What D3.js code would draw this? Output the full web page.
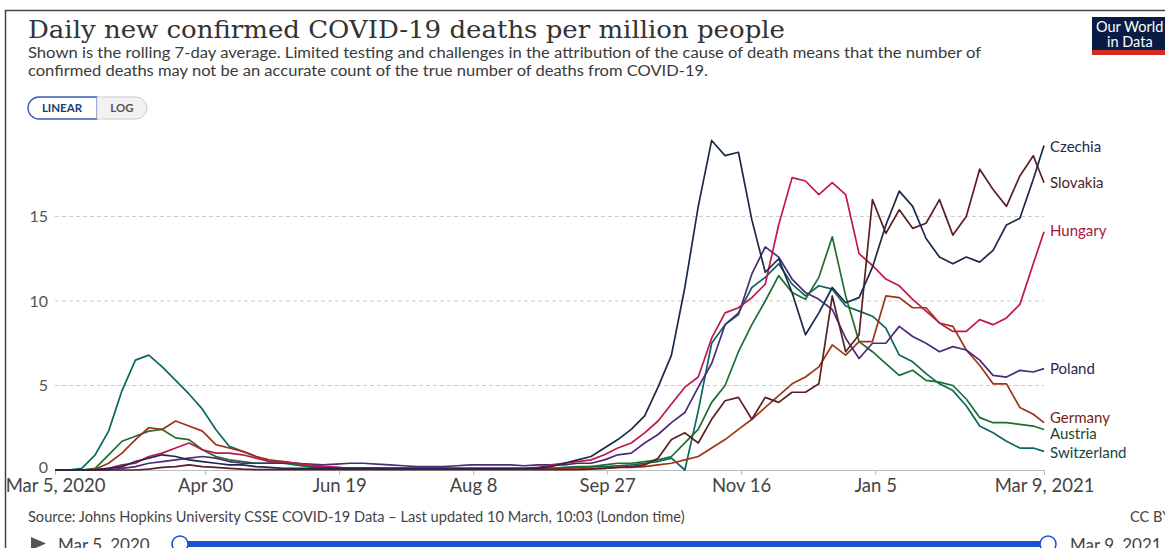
<!DOCTYPE html>
<html>
<head>
<meta charset="utf-8">
<script src="https://cdn.jsdelivr.net/npm/d3@7"></script>
<style>
  html, body { margin: 0; padding: 0; background: #fff; }
  svg { display: block; font-family: Lato, "Open Sans", sans-serif; }
</style>
</head>
<body>
<svg id="chart" width="1165" height="548"></svg>
<script>
// ---------------- DATA ----------------
const startDate = "2020-03-05";
const dayOffsets = [0,5,10,15,20,25,30,35,40,45,50,55,60,65,70,75,80,85,90,95,
  100,105,110,115,120,125,130,135,140,145,150,155,160,165,170,175,180,185,190,195,
  200,205,210,215,220,225,230,235,240,245,250,255,260,265,270,275,280,285,290,295,
  300,305,310,315,320,325,330,335,340,345,350,355,360,365,369];

const countries = ["Czechia","Slovakia","Hungary","Poland","Germany","Austria","Switzerland"];

const czechia = [0,0,0,0.02,0.1,0.2,0.5,0.7,0.9,0.8,0.6,0.5,0.4,0.3,0.3,0.2,0.15,0.1,0.1,
  0.1,0.1,0.1,0.1,0.1,0.1,0.1,0.1,0.1,0.1,0.1,0.1,0.1,0.1,0.1,0.1,0.1,0.1,
  0.2,0.4,0.6,0.8,1.3,1.8,2.4,3.2,4.9,6.8,10.8,15.6,19.5,18.6,18.8,14.8,11.7,12.5,10.5,8.0,9.3,10.8,9.9,
  10.2,12.0,14.5,16.5,15.6,13.7,12.6,12.2,12.6,12.3,13.0,14.5,14.9,17.2,19.2];

const slovakia = [0,0,0,0,0,0,0,0.05,0.15,0.2,0.3,0.2,0.15,0.1,0.05,
  0.02,0.02,0.02,0.02,0.02,0.02,0.02,0.02,0.02,0.02,0.02,0.02,0.02,0.02,0.02,0.02,0.02,0.02,0.02,0.02,0.02,0.02,0.02,0.02,0.02,
  0.05,0.1,0.15,0.2,0.3,0.7,1.8,2.2,1.6,3.0,4.1,4.3,3.0,4.3,4.0,4.6,4.6,5.1,10.3,7.0,
  8.0,16.0,14.0,15.4,14.3,14.6,16.0,13.9,15.0,17.8,16.6,15.6,17.4,18.6,17.0];

const hungary = [0,0,0,0,0.1,0.3,0.4,0.8,1.0,1.3,1.6,1.2,1.0,1.0,0.9,0.7,0.5,0.5,0.4,0.3,0.2,0.15,
  0.1,0.1,0.1,0.1,0.1,0.1,0.1,0.1,0.1,0.1,0.1,0.1,0.1,0.1,
  0.15,0.3,0.4,0.5,0.6,0.9,1.3,1.6,2.2,2.9,3.9,4.9,5.5,7.8,9.3,9.6,10.2,11.0,14.5,17.3,17.1,16.3,17.0,16.3,
  12.8,12.1,11.3,10.9,10.1,9.4,8.7,8.2,8.2,8.9,8.6,9.0,9.8,12.2,14.1];

const poland = [0,0,0,0,0,0.1,0.2,0.4,0.5,0.6,0.7,0.8,0.7,0.5,0.4,0.4,0.4,0.4,0.4,0.35,0.3,0.35,0.4,0.4,
  0.35,0.3,0.25,0.2,0.2,0.2,0.25,0.3,0.3,0.3,0.3,0.25,0.3,0.3,0.3,0.4,
  0.4,0.6,0.9,1.0,1.6,2.1,2.8,3.4,4.9,6.3,8.6,9.2,11.6,13.2,12.6,11.3,10.5,10.1,9.5,7.8,
  6.6,7.5,7.5,8.5,7.9,7.5,7.0,7.3,7.1,6.5,5.6,5.5,5.9,5.8,6.0];

const germany = [0,0,0,0.05,0.4,1.0,1.8,2.5,2.4,2.9,2.6,2.3,1.5,1.3,1.1,0.8,0.6,0.5,0.4,0.3,0.2,0.15,
  0.1,0.1,0.1,0.1,0.1,0.1,0.1,0.1,0.05,0.05,0.05,0.05,0.05,0.05,0.05,0.05,0.05,0.05,
  0.1,0.1,0.15,0.15,0.2,0.3,0.4,0.6,0.8,1.3,1.8,2.4,3.0,3.7,4.4,5.1,5.5,6.1,7.4,6.8,
  7.6,7.6,10.3,10.2,9.6,9.6,8.7,8.5,7.1,6.2,5.1,5.1,3.7,3.3,2.8];

const austria = [0,0,0,0.1,0.9,1.7,2.0,2.3,2.4,1.9,1.8,1.2,0.8,0.6,0.5,0.4,0.4,0.5,0.3,0.2,0.1,0.1,0.1,0.1,0.1,
  0.05,0.05,0.05,0.05,0.05,0.05,0.05,0.05,0.05,0.05,0.05,
  0.1,0.1,0.15,0.2,0.2,0.3,0.4,0.4,0.5,0.6,0.8,1.6,2.4,4.0,5.0,7.0,8.6,10.0,11.5,10.5,10.1,11.4,13.8,10.3,
  7.6,7.0,6.3,5.6,5.9,5.3,5.2,5.0,4.2,3.1,2.8,2.8,2.7,2.6,2.4];

const switzerland = [0,0,0.1,0.9,2.3,4.7,6.5,6.8,6.1,5.3,4.5,3.6,2.4,1.4,1.1,0.8,0.5,0.4,0.3,
  0.2,0.15,0.1,0.1,0.1,0.05,0.05,0.05,0.05,0.05,0.05,0.05,0.05,0.05,0.05,0.05,0.05,
  0.1,0.1,0.1,0.15,0.2,0.2,0.25,0.3,0.4,0.5,0.7,0.0,3.5,7.5,8.6,9.3,10.8,11.4,12.2,11.0,10.3,10.9,10.7,9.7,
  9.4,9.1,8.4,6.8,6.4,5.7,5.1,4.7,3.8,2.6,2.2,1.7,1.3,1.3,1.1];

const seriesValues = [czechia, slovakia, hungary, poland, germany, austria, switzerland];
const lineColors  = ["#1b2a4a","#5e1f24","#c0174e","#4b2c7a","#9e3418","#1f6e2f","#0d6660"];
const labelColors = ["#1d2a44","#4a2528","#a3153f","#2e2350","#7a2412","#1a4a2a","#1a3f3f"];
const labelY = [147,183,231,369,418,434,453];

const yTicks = [0,5,10,15];
const xTickDates = ["2020-03-05","2020-04-30","2020-06-19","2020-08-08","2020-09-27","2020-11-16","2021-01-05","2021-03-09"];
const xTickLabels = ["Mar 5, 2020","Apr 30","Jun 19","Aug 8","Sep 27","Nov 16","Jan 5","Mar 9, 2021"];

const title = "Daily new confirmed COVID-19 deaths per million people";
const subtitle = ["Shown is the rolling 7-day average. Limited testing and challenges in the attribution of the cause of death means that the number of",
                  "confirmed deaths may not be an accurate count of the true number of deaths from COVID-19."];
const subtitleWidths = [953, 680];
const source = "Source: Johns Hopkins University CSSE COVID-19 Data – Last updated 10 March, 10:03 (London time)";

// ---------------- DRAW ----------------
const svg = d3.select("#chart");
const parse = d3.utcParse("%Y-%m-%d");
const start = parse(startDate);
const dates = dayOffsets.map(o => d3.utcDay.offset(start, o));

const x = d3.scaleUtc().domain([parse("2020-03-05"), parse("2021-03-09")]).range([55, 1044]);
const y = d3.scaleLinear().domain([0, 20]).range([470, 132]);

// frame
svg.append("path").attr("d", "M5.5,548 L5.5,10.5 L1165,10.5")
  .attr("fill", "none").attr("stroke", "#444").attr("stroke-width", 1.5);

// title
svg.append("text").attr("x", 28).attr("y", 38)
  .attr("font-family", "'DejaVu Serif', serif").attr("font-size", 24)
  .attr("fill", "#333").attr("textLength", 757).attr("lengthAdjust", "spacingAndGlyphs")
  .text(title);
subtitle.forEach((s, i) => {
  svg.append("text").attr("x", 28).attr("y", 58 + i * 17.5)
    .attr("font-size", 15.6).attr("fill", "#3a3a3a")
    .attr("textLength", subtitleWidths[i]).attr("lengthAdjust", "spacingAndGlyphs").text(s);
});

// logo
const logo = svg.append("g");
logo.append("rect").attr("x", 1092).attr("y", 17).attr("width", 73).attr("height", 37).attr("fill", "#0a1c44");
logo.append("rect").attr("x", 1092).attr("y", 50).attr("width", 73).attr("height", 5).attr("fill", "#d42b21");
logo.append("text").attr("x", 1096).attr("y", 32).attr("font-size", 14.5).attr("fill", "#fff").text("Our World");
logo.append("text").attr("x", 1107).attr("y", 47).attr("font-size", 14.5).attr("fill", "#fff").text("in Data");

// buttons
svg.append("path").attr("d", "M97,108 L97,119 L39,119 A11,11 0 0 1 39,97 L97,97 Z")
  .attr("fill", "#fff").attr("stroke", "#3a5bb0").attr("stroke-width", 1.3);
svg.append("path").attr("d", "M97,97 L136,97 A11,11 0 0 1 136,119 L97,119 Z")
  .attr("fill", "#f2f2f2").attr("stroke", "#ccc").attr("stroke-width", 1);
svg.append("text").attr("x", 62).attr("y", 112).attr("text-anchor", "middle")
  .attr("font-size", 11.5).attr("font-weight", "bold").attr("fill", "#1d3d7a").text("LINEAR");
svg.append("text").attr("x", 122).attr("y", 112).attr("text-anchor", "middle")
  .attr("font-size", 11.5).attr("font-weight", "bold").attr("fill", "#555").text("LOG");

// grid + y labels
const gy = svg.append("g");
yTicks.forEach(t => {
  if (t > 0) {
    gy.append("line").attr("x1", 55).attr("x2", 1044).attr("y1", y(t)).attr("y2", y(t))
      .attr("stroke", "#ccc").attr("stroke-dasharray", "4,3");
  }
  gy.append("text").attr("x", 48).attr("y", y(t) - (t === 0 ? 3 : 0)).attr("dy", "0.35em")
    .attr("text-anchor", "end").attr("font-size", 16).attr("fill", "#555").text(t);
});

// x axis
const xTicks = xTickDates.map(parse);
const xAxis = d3.axisBottom(x).tickValues(xTicks).tickSize(5)
  .tickFormat((d, i) => xTickLabels[i]);
const gx = svg.append("g").attr("transform", "translate(0,470)").call(xAxis);
gx.select(".domain").attr("stroke", "#bbb").attr("d", "M55,0.5H1044");
gx.selectAll(".tick line").attr("stroke", "#bbb");
gx.selectAll(".tick text").attr("font-family", "Lato, sans-serif").attr("font-size", 18.5)
  .attr("fill", "#444").attr("y", 7).attr("dy", "0.8em");

// lines
const line = d3.line().x((d, i) => x(dates[i])).y(d => y(d)).curve(d3.curveLinear);
const gl = svg.append("g");
const order = [6, 5, 4, 3, 2, 1, 0];
order.forEach(k => {
  gl.append("path").datum(seriesValues[k])
    .attr("fill", "none").attr("stroke", lineColors[k]).attr("stroke-width", 1.7)
    .attr("stroke-linejoin", "round").attr("d", line);
});

// labels
countries.forEach((c, k) => {
  svg.append("text").attr("x", 1050).attr("y", labelY[k]).attr("dy", "0.35em")
    .attr("font-size", 15).attr("fill", labelColors[k]).text(c);
});

// footer
svg.append("text").attr("x", 28).attr("y", 522).attr("font-size", 14.6).attr("fill", "#444").text(source);
svg.append("text").attr("x", 1130).attr("y", 522).attr("font-size", 14.6).attr("fill", "#444").text("CC BY");

// slider
svg.append("path").attr("d", "M31,537 L46,543.5 L31,550 Z").attr("fill", "#555");
svg.append("text").attr("x", 58).attr("y", 551).attr("font-size", 17).attr("fill", "#444").text("Mar 5, 2020");
svg.append("rect").attr("x", 180).attr("y", 541).attr("width", 868).attr("height", 6).attr("fill", "#1a4fcf");
[180, 1048].forEach(cx => {
  svg.append("circle").attr("cx", cx).attr("cy", 544).attr("r", 8)
    .attr("fill", "#fff").attr("stroke", "#1a4fcf").attr("stroke-width", 1.5);
});
svg.append("text").attr("x", 1070).attr("y", 551).attr("font-size", 17).attr("fill", "#444").text("Mar 9, 2021");
</script>
</body>
</html>
